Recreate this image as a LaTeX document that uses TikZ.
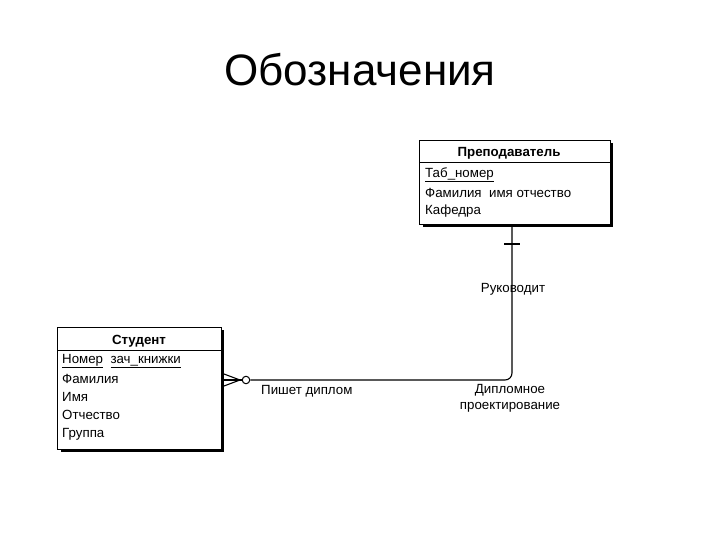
\documentclass[tikz,border=0pt]{standalone}
\usepackage{fontspec}
\setmainfont{Liberation Sans}
\begin{document}
\begin{tikzpicture}[x=1pt,y=-1pt,
  ent/.style={draw,line width=1pt,inner sep=0pt,anchor=north west},
  shadow/.style={line width=2.8pt},
  attr/.style={anchor=west,inner sep=0pt,font=\fontsize{13.3}{14}\selectfont},
  ttl/.style={inner sep=0pt,font=\fontsize{13.3}{14}\selectfont\bfseries},
  lbl/.style={inner sep=0pt,font=\fontsize{13.3}{16}\selectfont,align=center},
  conn/.style={line width=1.1pt}]
\useasboundingbox (0,0) rectangle (720,540);
\node[inner sep=0pt,font=\fontsize{44}{48}\selectfont] (title) at (360,70) {Обозначения};
% teacher
\node[ent,minimum width=191pt,minimum height=84pt] (teach) at (419,140) {};
\draw[shadow] (423,225.5) -- (611.5,225.5) -- (611.5,143);
\draw[line width=1pt] (419,163) -- (610,163);
\node[ttl] (tt) at (509,153) {Преподаватель};
\node[attr] (t1) at (425,175) {\underline{Таб\_номер}};
\node[attr] (t2) at (425,193) {Фамилия\ \ имя отчество};
\node[attr] (t3) at (425,211) {Кафедра};
% student
\node[ent,minimum width=164pt,minimum height=122pt] (stud) at (57,327) {};
\draw[shadow] (61,450.5) -- (222.5,450.5) -- (222.5,330);
\draw[line width=1pt] (57,350) -- (221,350);
\node[ttl] (st) at (139,341) {Студент};
\node[attr] (s1) at (62,361) {\underline{Номер}\ \ \underline{зач\_книжки}};
\node[attr] (s2) at (62,379) {Фамилия};
\node[attr] (s3) at (62,397) {Имя};
\node[attr] (s4) at (62,415) {Отчество};
\node[attr] (s5) at (62,434) {Группа};
% connector
\coordinate (f1) at (224,374);
\coordinate (f2) at (224,386);
\coordinate (fm) at (224,380);
\coordinate (tip) at (240,380);
\node[draw,circle,line width=1pt,minimum size=7.5pt,inner sep=0pt] (circ) at (246,380) {};
\draw[conn] (f1) -- (tip) -- (f2);
\draw[conn] (fm) -- (circ.west);
\coordinate (top) at (512,225.5);
\draw[conn,rounded corners=7pt] (circ.east) -| (top);
\coordinate (k1) at (504,244);
\coordinate (k2) at (520,244);
\draw[conn] (k1) -- (k2);
\node[lbl] (ruk) at (513,289) {Руководит};
\node[lbl,anchor=west] (pish) at (261,391) {Пишет диплом};
\node[lbl] (dip) at (510,398) {Дипломное\\проектирование};
\end{tikzpicture}
\end{document}
